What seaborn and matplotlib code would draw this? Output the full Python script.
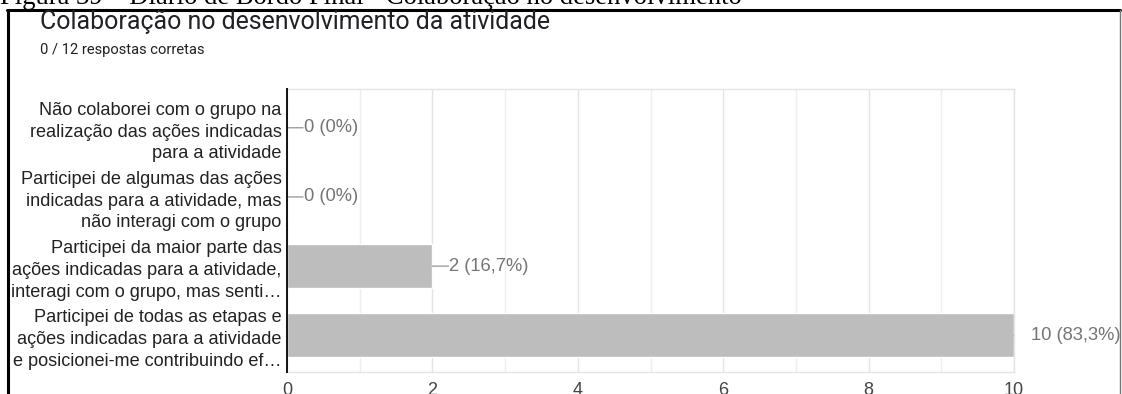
import matplotlib
matplotlib.use("Agg")
import matplotlib.pyplot as plt
from matplotlib.lines import Line2D
from matplotlib.ticker import MultipleLocator
import seaborn as sns
import pandas as pd

# Survey answers (question: collaboration during the activity)
categories = [
    "Não colaborei com o grupo na\nrealização das ações indicadas\npara a atividade",
    "Participei de algumas das ações\nindicadas para a atividade, mas\nnão interagi com o grupo",
    "Participei da maior parte das\nações indicadas para a atividade,\ninteragi com o grupo, mas senti…",
    "Participei de todas as etapas e\nações indicadas para a atividade\ne posicionei-me contribuindo ef…",
]
counts = [0, 0, 2, 10]
total_responses = 12
x_ticks = [0, 2, 4, 6, 8, 10]

caption = "Figura 39 – Diário de Bordo Final - Colaboração no desenvolvimento"
title = "Colaboração no desenvolvimento da atividade"
subtitle = "0 / 12 respostas corretas"


def pct_label(n, total):
    pct = 100 * n / total
    if float(pct).is_integer():
        return f"{n} ({int(pct)}%)"
    return f"{n} ({pct:.1f}%)".replace(".", ",")


df = pd.DataFrame({"resposta": categories, "n": counts})

sns.set_theme(style="white")
plt.rcParams["font.family"] = ["Liberation Sans", "DejaVu Sans"]

W, H = 1122, 394
fig = plt.figure(figsize=(W / 100, H / 100), dpi=100)
ax = fig.add_axes([287 / W, 1 - 372 / H, (1014 - 287) / W, (372 - 89) / H])

sns.barplot(data=df, x="n", y="resposta", orient="h", color="#bdbdbd",
            saturation=1, width=0.64, ax=ax, zorder=2)

ax.set_xlim(0, 10)
ax.set_ylim(3.53, -0.56)
ax.set_xlabel("")
ax.set_ylabel("")
ax.xaxis.set_minor_locator(MultipleLocator(1))
ax.set_xticks(x_ticks)
ax.grid(axis="x", which="major", color="#e4e4e4", linewidth=1, zorder=0)
ax.grid(axis="x", which="minor", color="#eeeeee", linewidth=1, zorder=0)
ax.set_axisbelow(True)

ax.tick_params(axis="y", length=0, pad=4, labelsize=13.1, labelcolor="#222222")
ax.tick_params(axis="x", which="both", length=0, pad=7, labelsize=13,
               labelcolor="#444444")
for lbl in ax.get_yticklabels():
    lbl.set_linespacing(1.36)

for side in ("top", "bottom", "right"):
    ax.spines[side].set_color("#e4e4e4")
    ax.spines[side].set_linewidth(1)
ax.spines["left"].set_color("#111111")
ax.spines["left"].set_linewidth(1.4)
ax.spines["left"].set_zorder(3)

# value labels with a short leader line (clipped to the plotting area)
for i, n in enumerate(counts):
    lead = ax.annotate("", xy=(n, i), xytext=(16, 0), textcoords="offset pixels",
                       arrowprops=dict(arrowstyle="-", color="#9e9e9e", lw=1,
                                       shrinkA=0, shrinkB=0))
    lead.arrow_patch.set_clip_box(ax.bbox)
    lead.arrow_patch.set_clip_on(True)
    ax.annotate(pct_label(n, total_responses), xy=(n, i), xytext=(17, 0),
                textcoords="offset pixels", ha="left", va="center",
                fontsize=13.2, color="#757575", annotation_clip=False)

# headings
fig.text(40 / W, 1 - 22 / H, title, family="Roboto", fontsize=17.9,
         color="#202124", va="center", ha="left")
fig.text(40 / W, 1 - 50 / H, subtitle, family="Roboto", fontsize=10.6,
         color="#202124", va="center", ha="left")

# document caption above the framed chart
fig.text(0, 1 - 4 / H, caption, family="Liberation Serif", fontsize=19.2,
         color="#000000", va="baseline", ha="left")

# frame around the chart
fig.add_artist(Line2D([7 / W, 1120 / W], [1 - 10 / H, 1 - 10 / H],
                      color="black", lw=2.2, transform=fig.transFigure))
fig.add_artist(Line2D([8 / W, 8 / W], [1 - 10 / H, 0],
                      color="black", lw=2.2, transform=fig.transFigure))
fig.add_artist(Line2D([1120 / W, 1120 / W], [1 - 10 / H, 0],
                      color="#777777", lw=1, transform=fig.transFigure))

fig.savefig("out.png", dpi=100)
